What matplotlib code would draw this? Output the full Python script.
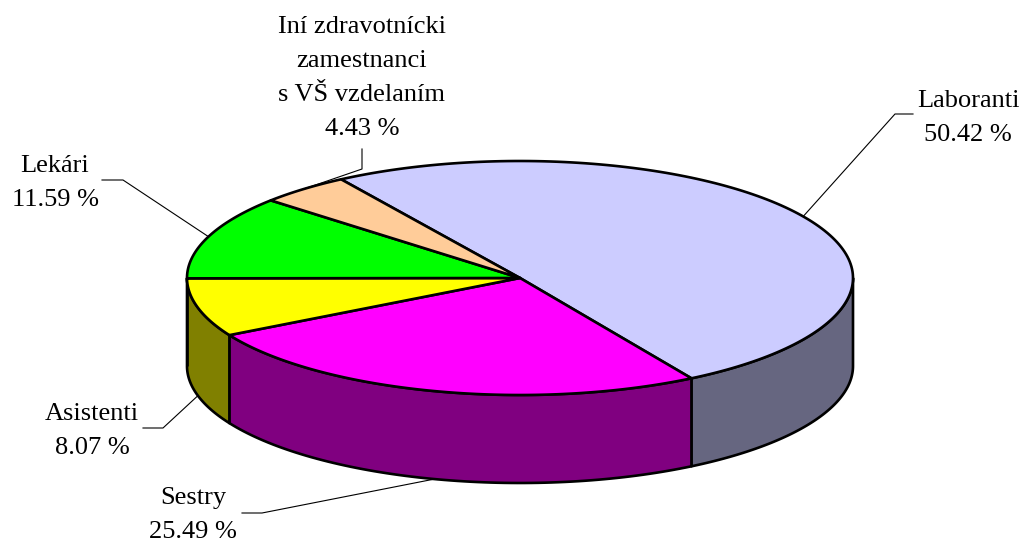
import numpy as np
import matplotlib
matplotlib.use("Agg")
import matplotlib.pyplot as plt
from matplotlib.patches import Polygon

# data
names = ["Laboranti", "Sestry", "Asistenti", "Lekári",
         "Iní zdravotnícki\nzamestnanci\ns VŠ vzdelaním"]
values = [50.42, 25.49, 8.07, 11.59, 4.43]
top_colors = ["#CCCCFF", "#FF00FF", "#FFFF00", "#00FF00", "#FFCC99"]
side_colors = ["#666680", "#800080", "#808000", "#008000", "#806650"]

# pie geometry (pixels)
cx, cy = 520, 278
rx, ry = 333, 117
depth = 88
start = 122.5

# label layout: text centre x, first baseline, leader elbow, leader end
label_pos = [(968, 107), (193, 504), (92, 420), (55, 172), (362, 33)]
elbows = [[(895, 114), (913, 114)],
          [(262, 513), (242, 513)],
          [(163, 428), (143, 428)],
          [(123, 180), (102, 180)],
          [(362, 169), (362, 149)]]
line_gap = 34

fig = plt.figure(figsize=(10.24, 5.41), dpi=100)
ax = fig.add_axes([0, 0, 1, 1])
ax.set_xlim(0, 1024)
ax.set_ylim(541, 0)
ax.axis("off")


def pt(t, dz=0):
    t = np.radians(t)
    return cx + rx * np.cos(t), cy - ry * np.sin(t) + dz


total = sum(values)
bounds = []
a = start
for v in values:
    b = a - v / total * 360.0
    bounds.append((a, b))
    a = b

# sides (front half only: angles between -180 and 0)
for (a0, a1), col in zip(bounds, side_colors):
    hi = min(a0, 0)
    lo = max(a1, -180)
    if hi <= lo:
        continue
    t = np.linspace(hi, lo, 80)
    xs, ys = pt(t)
    xb, yb = pt(t[::-1], depth)
    poly = np.column_stack([np.r_[xs, xb], np.r_[ys, yb]])
    ax.add_patch(Polygon(poly, closed=True, facecolor=col,
                         edgecolor="black", lw=1.9, joinstyle="round"))

# top faces
for (a0, a1), col in zip(bounds, top_colors):
    t = np.linspace(a0, a1, 150)
    xs, ys = pt(t)
    poly = np.column_stack([np.r_[cx, xs], np.r_[cy, ys]])
    ax.add_patch(Polygon(poly, closed=True, facecolor=col,
                         edgecolor="black", lw=1.9, joinstyle="round"))

# labels + leader lines
for (a0, a1), name, v, (lx, ly), el in zip(bounds, names, values,
                                           label_pos, elbows):
    mid = (a0 + a1) / 2
    sx, sy = pt(mid)
    if np.sin(np.radians(mid)) < 0:
        sy += depth
    px = [sx] + [p[0] for p in el]
    py = [sy] + [p[1] for p in el]
    ax.plot(px, py, color="black", lw=0.8)
    lines = name.split("\n") + ["%.2f %%" % v]
    for i, s in enumerate(lines):
        ax.text(lx, ly + i * line_gap, s, ha="center", va="baseline",
                fontsize=19, family="Liberation Serif", color="black")

fig.savefig("out.png", dpi=100)
